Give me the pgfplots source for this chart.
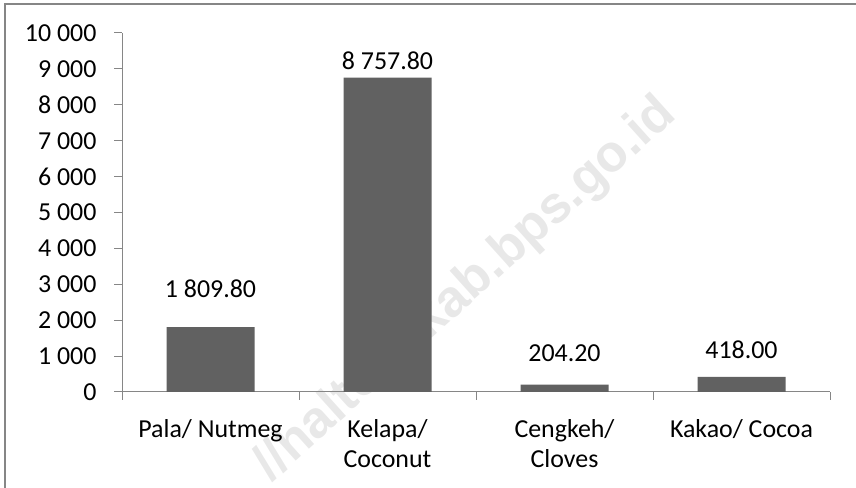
\documentclass[border=0pt]{standalone}
\usepackage{fontspec}
\setmainfont{Carlito}
\newfontfamily\wmfont{Liberation Sans}
\usepackage{pgfplots}
\usepackage{pgfplotstable}
\pgfplotsset{compat=1.18}
\definecolor{barc}{HTML}{616161}
\definecolor{axc}{HTML}{868686}
\definecolor{wmc}{HTML}{E8E8E8}
\pgfplotstableread{
x y dy
0 1809.80 30
1 8757.80 8
2 204.20 23
3 418.00 18
}\datatable
\begin{document}
\begin{tikzpicture}[x=1bp,y=1bp]
\useasboundingbox (0,0) rectangle (856,488);
\node[rotate=42, text=wmc, font=\wmfont\bfseries\fontsize{52}{52}\selectfont] at (466,198) {//haltengkab.bps.go.id};
\draw[axc, line width=1.5bp] (5,0) -- (5,484) -- (856,484);
\begin{axis}[
  at={(122bp,96bp)}, anchor=south west,
  scale only axis, width=708bp, height=359bp,
  xmin=-0.5, xmax=3.5, ymin=0, ymax=10000,
  enlargelimits=false,
  axis x line*=bottom, axis y line*=left,
  axis line style={axc, line width=1bp, -},
  tick style={axc, line width=1bp},
  tick align=outside, major tick length=8bp,
  font=\fontsize{26}{30}\selectfont,
  xtick={-0.5,0.5,1.5,2.5,3.5},
  x tick label as interval,
  xticklabels={Pala/ Nutmeg, {Kelapa/\\Coconut}, {Cengkeh/\\Cloves}, Kakao/ Cocoa},
  xticklabel style={align=center, anchor=north, yshift=-16bp},
  ytick={0,1000,...,10000},
  scaled y ticks=false,
  yticklabel style={anchor=east, xshift=-14bp},
  /pgf/number format/assume math mode=true,
  /pgf/number format/1000 sep={\ },
  nodes near coords={\pgfmathprintnumber[fixed,fixed zerofill,precision=2,1000 sep={\ },assume math mode=true]{\pgfplotspointmeta}},
  visualization depends on={\thisrow{dy} \as \dy},
  every node near coord/.append style={anchor=base, yshift=\dy bp, text=black, inner sep=0pt},
]
\addplot[ybar, bar width=88bp, fill=barc, draw=none] table[x=x, y=y] {\datatable};
\end{axis}
\end{tikzpicture}
\end{document}
